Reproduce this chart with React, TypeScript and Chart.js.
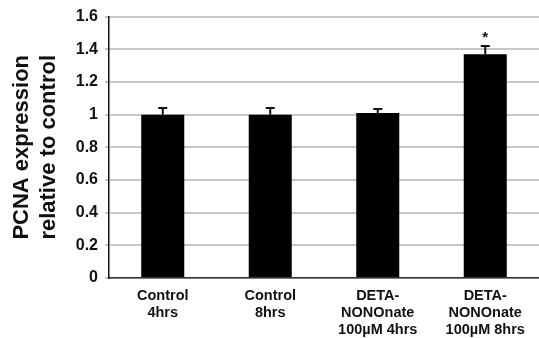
import React, { useEffect, useRef } from "react";
import { Chart, registerables } from "chart.js";

Chart.register(...registerables);

const categories: string[][] = [
  ["Control", "4hrs"],
  ["Control", "8hrs"],
  ["DETA-", "NONOnate", "100µM 4hrs"],
  ["DETA-", "NONOnate", "100µM 8hrs"],
];
const values: number[] = [1.0, 1.0, 1.01, 1.37];
const errors: number[] = [0.04, 0.04, 0.025, 0.05];
const significance: string[] = ["", "", "", "*"];
const yTitle: string[] = ["PCNA expression", "relative to control"];
const yMin = 0;
const yMax = 1.6;
const yStep = 0.2;

const FONT = "'Liberation Sans', Arial, Helvetica, sans-serif";

const errorBarPlugin = {
  id: "errorBars",
  afterDatasetsDraw(chart: any) {
    const ctx = chart.ctx;
    const meta = chart.getDatasetMeta(0);
    const yScale = chart.scales.y;
    ctx.save();
    meta.data.forEach((bar: any, i: number) => {
      const x = bar.x;
      const yTop = yScale.getPixelForValue(values[i]);
      const yErr = yScale.getPixelForValue(values[i] + errors[i]);
      ctx.strokeStyle = "#111";
      ctx.lineWidth = 2;
      ctx.beginPath();
      ctx.moveTo(x, yTop);
      ctx.lineTo(x, yErr);
      ctx.moveTo(x - 4.5, yErr);
      ctx.lineTo(x + 4.5, yErr);
      ctx.stroke();
      if (significance[i]) {
        ctx.fillStyle = "#111";
        ctx.font = `bold 15px ${FONT}`;
        ctx.textAlign = "center";
        ctx.textBaseline = "middle";
        ctx.fillText(significance[i], x, yErr - 8);
      }
    });
    ctx.restore();
  },
};

export default function App() {
  const canvasRef = useRef<HTMLCanvasElement | null>(null);

  useEffect(() => {
    if (!canvasRef.current) return;
    const chart = new Chart(canvasRef.current, {
      type: "bar",
      data: {
        labels: categories,
        datasets: [
          {
            data: values,
            backgroundColor: "#000",
            borderColor: "#000",
            borderWidth: 0,
            barPercentage: 0.4,
            categoryPercentage: 1,
          },
        ],
      },
      plugins: [errorBarPlugin],
      options: {
        animation: false,
        responsive: true,
        maintainAspectRatio: false,
        layout: { padding: { top: 16, right: 0, left: 0, bottom: 0 } },
        plugins: {
          legend: { display: false },
          tooltip: { enabled: false },
        },
        scales: {
          x: {
            grid: { display: false, drawTicks: false },
            border: { display: true, color: "#333", width: 1.5 },
            ticks: {
              color: "#111",
              padding: 10,
              maxRotation: 0,
              autoSkip: false,
              font: { family: FONT, size: 14.5, weight: "bold", lineHeight: 1.15 },
            },
            afterFit: (scale: any) => {
              scale.height = 60;
            },
          },
          y: {
            min: yMin,
            max: yMax,
            ticks: {
              stepSize: yStep,
              color: "#111",
              padding: 7,
              font: { family: FONT, size: 16, weight: "bold" },
              callback: (v: any) => String(Math.round(Number(v) * 10) / 10),
            },
            grid: {
              color: "#c8c8c8",
              lineWidth: 2,
              tickLength: 4,
            },
            border: { display: true, color: "#111", width: 1.5 },
            title: {
              display: true,
              text: yTitle,
              color: "#111",
              font: { family: FONT, size: 22, weight: "bold", lineHeight: 1.2 },
              padding: { top: 9, bottom: 0 },
            },
            afterFit: (scale: any) => {
              scale.width = 109;
            },
          },
        },
      },
    });
    return () => chart.destroy();
  }, []);

  return (
    <div style={{ position: "absolute", left: 0, top: 0, width: 539, height: 338, background: "#fff" }}>
      <canvas ref={canvasRef} />
    </div>
  );
}
